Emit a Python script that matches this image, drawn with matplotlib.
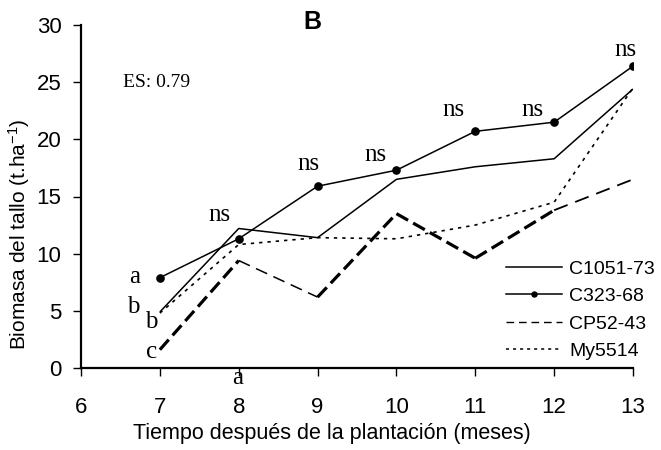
import matplotlib
matplotlib.use("Agg")
import matplotlib.pyplot as plt
from matplotlib.lines import Line2D

# ---- data -------------------------------------------------------------
months = [7, 8, 9, 10, 11, 12, 13]
c1051_73 = [4.9, 12.2, 11.4, 16.5, 17.6, 18.3, 24.4]
c323_68 = [7.9, 11.3, 15.9, 17.3, 20.7, 21.5, 26.4]
cp52_43 = [1.6, 9.4, 6.2, 13.5, 9.6, 13.8, 16.5]
my5514 = [4.8, 10.8, 11.4, 11.3, 12.5, 14.5, 24.5]

series_names = ["C1051-73", "C323-68", "CP52-43", "My5514"]
x_ticks = [6, 7, 8, 9, 10, 11, 12, 13]
y_ticks = [0, 5, 10, 15, 20, 25, 30]

# significance letters at month 7 and below month 8
letters_7 = ["a", "b", "b", "c"]
letter_8 = "a"
ns_text = "ns"
es_text = "ES: 0.79"
panel_text = "B"

# ---- style ------------------------------------------------------------
plt.rcParams["font.family"] = ["Liberation Sans", "DejaVu Sans"]
plt.rcParams["mathtext.fontset"] = "custom"
plt.rcParams["mathtext.rm"] = "Liberation Sans"
plt.rcParams["mathtext.it"] = "Liberation Sans"
SERIF = ["Liberation Serif", "DejaVu Serif"]

fig = plt.figure(figsize=(6.61, 4.50), dpi=100)
ax = fig.add_axes([81 / 661, 82 / 450, 552 / 661, 343 / 450])

ax.set_xlim(6, 13)
ax.set_ylim(0, 30)

# C1051-73: plain solid line
ax.plot(months, c1051_73, color="black", lw=1.1, solid_capstyle="butt")

# C323-68: solid line with round markers
ax.plot(months, c323_68, color="black", lw=1.1, marker="o", ms=5.2)

# CP52-43: dashed, drawn segment by segment (heavier strokes on some spans)
seg_widths = [2.3, 1.1, 2.3, 2.3, 2.3, 1.3]
for i, w in enumerate(seg_widths):
    if w > 2:
        dash = (0, (4.2, 1.8))
    else:
        dash = (0, (8.0, 4.5))
    ax.plot(months[i:i + 2], cp52_43[i:i + 2], color="black", lw=w,
            linestyle=dash, dash_capstyle="butt")

# My5514: dotted line
ax.plot(months, my5514, color="black", lw=1.2, linestyle=(0, (2.0, 3.0)))

# ---- axes cosmetics ---------------------------------------------------
for side in ("top", "right"):
    ax.spines[side].set_visible(False)
for side in ("left", "bottom"):
    ax.spines[side].set_linewidth(1.6)

ax.set_xticks(x_ticks)
ax.set_yticks(y_ticks)
ax.tick_params(axis="y", direction="out", length=6, width=1.0, pad=8,
               labelsize=16)
ax.tick_params(axis="x", direction="out", length=6, width=1.0, pad=15,
               labelsize=16)

ax.set_xlabel("Tiempo después de la plantación (meses)", fontsize=15.5)
ax.set_ylabel(r"Biomasa del tallo (t.ha$^{\mathregular{-1}}$)", fontsize=15)
ax.yaxis.set_label_coords(-0.089, 0.39)
ax.xaxis.set_label_coords(0.455, -0.16)

# ---- annotations --------------------------------------------------------
ax.text(8.94, 30.3, panel_text, fontsize=18, fontweight="bold",
        ha="center", va="center", clip_on=False)
ax.text(6.96, 24.96, es_text, fontsize=14, family=SERIF,
        ha="center", va="center")

letter_pos = [(6.685, 7.96), (6.66, 5.34), (6.89, 4.0), (6.9, 1.4)]
for txt, (lx, ly) in zip(letters_7, letter_pos):
    ax.text(lx, ly, txt, fontsize=18, family=SERIF, ha="center", va="center")
ax.text(7.99, -0.9, letter_8, fontsize=18, family=SERIF,
        ha="center", va="center", clip_on=False)

ns_pos = [(7.76, 13.4), (8.88, 17.8), (9.73, 18.6),
          (10.72, 22.6), (11.72, 22.6), (12.9, 27.8)]
for nx, ny in ns_pos:
    ax.text(nx, ny, ns_text, fontsize=18, family=SERIF,
            ha="center", va="center", clip_on=False)

# ---- legend -----------------------------------------------------------
handles = [
    Line2D([], [], color="black", lw=1.1),
    Line2D([], [], color="black", lw=1.1, marker="o", ms=3.6),
    Line2D([], [], color="black", lw=1.0, linestyle=(0, (5.5, 3.5))),
    Line2D([], [], color="black", lw=1.1, linestyle=(0, (2.0, 2.6))),
]
ax.legend(handles, series_names, loc="center left",
          bbox_to_anchor=(0.77, 0.169), frameon=False, fontsize=14,
          handlelength=2.9, handletextpad=0.35, labelspacing=0.5,
          borderpad=0.0, borderaxespad=0.0)

fig.savefig("out.png", dpi=100)
